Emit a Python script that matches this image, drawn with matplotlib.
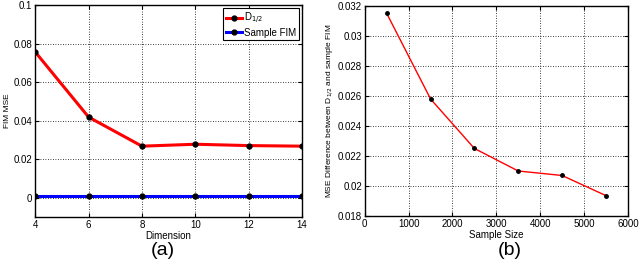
import matplotlib
matplotlib.use("Agg")
import matplotlib.pyplot as plt

dims = [4, 6, 8, 10, 12, 14]
d_half = [0.0757, 0.0419, 0.0268, 0.0278, 0.0271, 0.0268]
sample_fim = [0.001, 0.001, 0.001, 0.001, 0.001, 0.001]

sizes = [500, 1500, 2500, 3500, 4500, 5500]
mse_diff = [0.0315, 0.0258, 0.0225, 0.0210, 0.0207, 0.01936]

plt.rcParams["font.family"] = ["Liberation Sans", "DejaVu Sans"]
fig = plt.figure(figsize=(6.4, 2.69), dpi=100)

ax1 = fig.add_axes([0.055, 0.193, 0.417, 0.788])
ax1.plot(dims, d_half, color="red", lw=2.2, marker="o", ms=3.5, mfc="black", mec="black", label="D$_{1/2}$")
ax1.plot(dims, sample_fim, color="blue", lw=2.2, marker="o", ms=3.5, mfc="black", mec="black", label="Sample FIM")
ax1.set_xlim(4, 14)
ax1.set_ylim(-0.01, 0.1)
ax1.set_xticks(dims)
ax1.set_yticks([0, 0.02, 0.04, 0.06, 0.08, 0.1])
ax1.set_yticklabels(["0", "0.02", "0.04", "0.06", "0.08", "0.1"])
ax1.set_xlabel("Dimension", fontsize=7, labelpad=1)
ax1.set_ylabel("FIM MSE", fontsize=6, labelpad=2)
ax1.grid(True, color="black", ls=(0, (1, 2)), lw=0.6)
ax1.tick_params(labelsize=7, direction="in", length=3, pad=2, top=True, right=True)
leg = ax1.legend(loc="upper right", fontsize=7, borderaxespad=0.3, fancybox=False,
                 edgecolor="black", framealpha=1, handlelength=1.7, handletextpad=0.2,
                 borderpad=0.3, labelspacing=0.15)
leg.get_frame().set_linewidth(0.8)
for s in ax1.spines.values():
    s.set_linewidth(1.0)

ax2 = fig.add_axes([0.570, 0.197, 0.411, 0.781])
ax2.plot(sizes, mse_diff, color="red", lw=1.0, marker="o", ms=2.5, mfc="black", mec="black")
ax2.set_xlim(0, 6000)
ax2.set_ylim(0.018, 0.032)
ax2.set_xticks(range(0, 6001, 1000))
ax2.set_yticks([0.018, 0.02, 0.022, 0.024, 0.026, 0.028, 0.03, 0.032])
ax2.set_yticklabels(["0.018", "0.02", "0.022", "0.024", "0.026", "0.028", "0.03", "0.032"])
ax2.set_xlabel("Sample Size", fontsize=7, labelpad=1)
ax2.set_ylabel("MSE Difference between D$_{1/2}$ and sample FIM", fontsize=6, labelpad=2)
ax2.grid(True, color="black", ls=(0, (1, 2)), lw=0.6)
ax2.tick_params(labelsize=7, direction="in", length=3, pad=2, top=True, right=True)
for s in ax2.spines.values():
    s.set_linewidth(1.0)

fig.text(0.255, 0.07, "(a)", fontsize=14, ha="center", va="center")
fig.text(0.797, 0.07, "(b)", fontsize=14, ha="center", va="center")

fig.savefig("out.png", dpi=100)
